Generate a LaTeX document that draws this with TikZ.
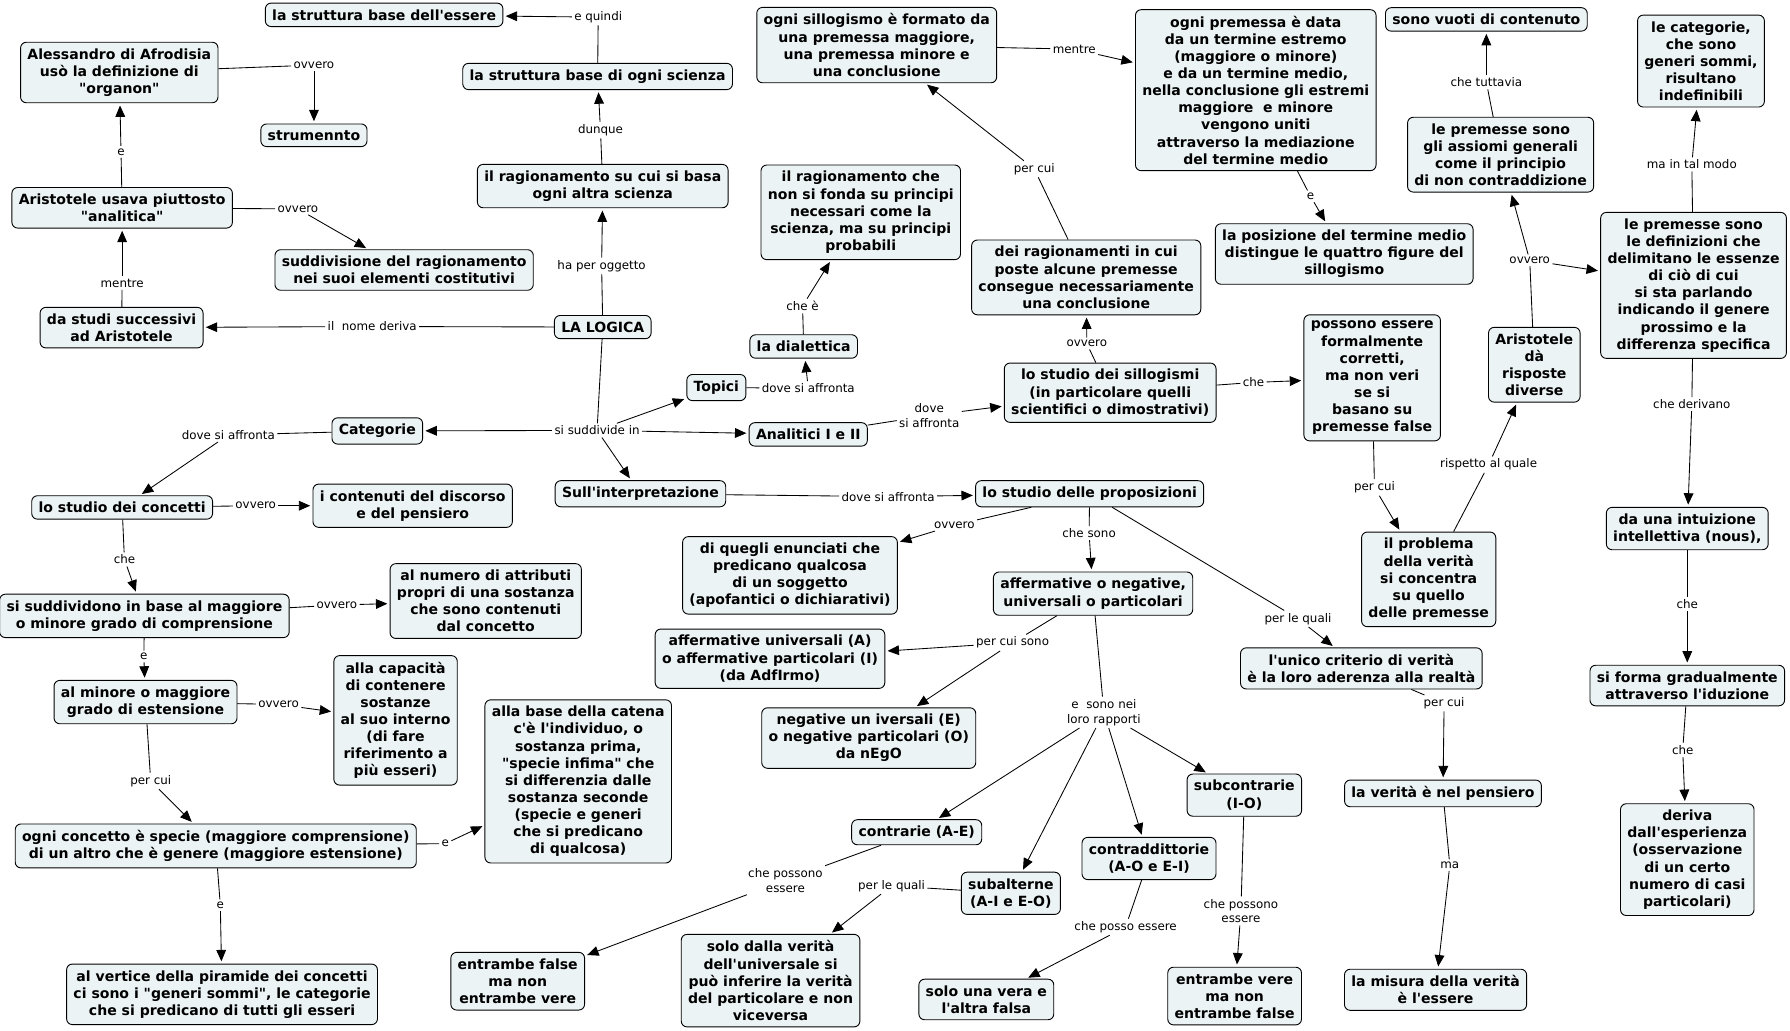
\documentclass[tikz,border=0pt]{standalone}
\usepackage{fontspec}
\newfontfamily\mapfont{DejaVu Sans}
\usepackage{tikz}
\usetikzlibrary{arrows.meta}
\definecolor{cmapfill}{RGB}{236,243,245}
\newcommand\conceptfont{\mapfont\bfseries\fontsize{12.3}{15}\selectfont}
\newcommand\linkfont{\mapfont\fontsize{10.4}{13}\selectfont}

\begin{document}
\begin{tikzpicture}[x=1pt,y=-1pt,
  concept/.style={draw,line width=0.8pt,rounded corners=5pt,fill=cmapfill,align=center,font=\conceptfont,inner xsep=6pt,inner ysep=5.5pt},
  linkl/.style={font=\linkfont,align=center,inner sep=2pt},
  link/.style={line width=0.75pt},
  arr/.style={link,-{Triangle[length=10pt,width=8.5pt]},shorten >=2pt}]
\useasboundingbox (0,0) rectangle (1568,903);
\node[concept] (essere) at (336.5,13) {la struttura base dell'essere};
\node[concept] (scienza) at (523.5,67) {la struttura base di ogni scienza};
\node[concept] (alessandro) at (104.5,63.5) {Alessandro di Afrodisia\\usò la definizione di\\"organon"};
\node[concept] (strumento) at (275,118.5) {strumennto};
\node[concept] (ragionamento) at (528,163) {il ragionamento su cui si basa\\ogni altra scienza};
\node[concept] (aristotele) at (107,182) {Aristotele usava piuttosto\\"analitica"};
\node[concept] (suddivisione) at (354,236.5) {suddivisione del ragionamento\\nei suoi elementi costitutivi};
\node[concept] (studi) at (106.5,287) {da studi successivi\\ad Aristotele};
\node[concept] (logica) at (528,286.5) {LA LOGICA};
\node[concept] (sillogismo) at (768,39.5) {ogni sillogismo è formato da\\una premessa maggiore,\\una premessa minore e\\una conclusione};
\node[concept] (premessa) at (1100,79) {ogni premessa è data\\da un termine estremo\\(maggiore o minore)\\e da un termine medio,\\nella conclusione gli estremi\\maggiore\ \ e minore\\vengono uniti\\attraverso la mediazione\\del termine medio};
\node[concept] (vuoti) at (1302,17) {sono vuoti di contenuto};
\node[concept] (indefinibili) at (1490,53.5) {le categorie,\\che sono\\generi sommi,\\risultano\\indefinibili};
\node[concept] (dialdef) at (754,186) {il ragionamento che\\non si fonda su principi\\necessari come la\\scienza, ma su principi\\probabili};
\node[concept] (ragionamenti) at (951.5,243) {dei ragionamenti in cui\\poste alcune premesse\\consegue necessariamente\\una conclusione};
\node[concept] (posizione) at (1177.5,222.5) {la posizione del termine medio\\distingue le quattro figure del\\sillogismo};
\node[concept] (assiomi) at (1314.5,135.5) {le premesse sono\\gli assiomi generali\\come il principio\\di non contraddizione};
\node[concept] (definizioni) at (1483.5,250) {le premesse sono\\le definizioni che\\delimitano le essenze\\di ciò di cui\\si sta parlando\\indicando il genere\\prossimo e la\\differenza specifica};
\node[concept] (risposte) at (1344,319.5) {Aristotele\\dà\\risposte\\diverse};
\node[concept] (possono) at (1202,331) {possono essere\\formalmente\\corretti,\\ma non veri\\se si\\basano su\\premesse false};
\node[concept] (dialettica) at (704,303.5) {la dialettica};
\node[concept] (topici) at (627.5,339.5) {Topici};
\node[concept] (sillogismi) at (972.5,344) {lo studio dei sillogismi\\(in particolare quelli\\scientifici o dimostrativi)};
\node[concept] (categorie) at (330.5,377.5) {Categorie};
\node[concept] (analitici) at (708,380.5) {Analitici I e II};
\node[concept] (interpretazione) at (561,432.5) {Sull'interpretazione};
\node[concept] (proposizioni) at (954.5,432.5) {lo studio delle proposizioni};
\node[concept] (concetti) at (107,444.5) {lo studio dei concetti};
\node[concept] (contenuti) at (361.5,443) {i contenuti del discorso\\e del pensiero};
\node[concept] (enunciati) at (692,504) {di quegli enunciati che\\predicano qualcosa\\di un soggetto\\(apofantici o dichiarativi)};
\node[concept] (affneg) at (957.5,520) {affermative o negative,\\universali o particolari};
\node[concept] (suddividono) at (126.5,539.5) {si suddividono in base al maggiore\\o minore grado di comprensione};
\node[concept] (attributi) at (425.5,526.5) {al numero di attributi\\propri di una sostanza\\che sono contenuti\\dal concetto};
\node[concept] (affermative) at (674.5,577) {affermative universali (A)\\o affermative particolari (I)\\(da AdfIrmo)};
\node[concept] (estensione) at (127.5,615) {al minore o maggiore\\grado di estensione};
\node[concept] (capacita) at (346.5,631) {alla capacità\\di contenere\\sostanze\\al suo interno\\(di fare\\riferimento a\\più esseri)};
\node[concept] (individuo) at (506.5,684.5) {alla base della catena\\c'è l'individuo, o\\sostanza prima,\\"specie infima" che\\si differenzia dalle\\sostanza seconde\\(specie e generi\\che si predicano\\di qualcosa)};
\node[concept] (negative) at (761,646.5) {negative un iversali (E)\\o negative particolari (O)\\da nEgO};
\node[concept] (criterio) at (1192.5,585.5) {l'unico criterio di verità\\è la loro aderenza alla realtà};
\node[concept] (problema) at (1251.5,507.5) {il problema\\della verità\\si concentra\\su quello\\delle premesse};
\node[concept] (intuizione) at (1478,463) {da una intuizione\\intellettiva (nous),};
\node[concept] (gradualmente) at (1478,600.5) {si forma gradualmente\\attraverso l'iduzione};
\node[concept] (esperienza) at (1478,753) {deriva\\dall'esperienza\\(osservazione\\di un certo\\numero di casi\\particolari)};
\node[concept] (pensiero) at (1264,695) {la verità è nel pensiero};
\node[concept] (misura) at (1257.5,867) {la misura della verità\\è l'essere};
\node[concept] (specie) at (189,741) {ogni concetto è specie (maggiore comprensione)\\di un altro che è genere (maggiore estensione)};
\node[concept] (vertice) at (194.5,871) {al vertice della piramide dei concetti\\ci sono i "generi sommi", le categorie\\che si predicano di tutti gli esseri};
\node[concept] (contrarie) at (803,729) {contrarie (A-E)};
\node[concept] (subcontrarie) at (1090,696.5) {subcontrarie\\(I-O)};
\node[concept] (contraddittorie) at (1006.5,752) {contraddittorie\\(A-O e E-I)};
\node[concept] (subalterne) at (885.5,782.5) {subalterne\\(A-I e E-O)};
\node[concept] (ambefalse) at (453.5,859.5) {entrambe false\\ma non\\entrambe vere};
\node[concept] (solodalla) at (675,859) {solo dalla verità\\dell'universale si\\può inferire la verità\\del particolare e non\\viceversa};
\node[concept] (solouna) at (864,875.5) {solo una vera e\\l'altra falsa};
\node[concept] (ambevere) at (1081.5,872.5) {entrambe vere\\ma non\\entrambe false};
\node[linkl] (lequindi) at (524,15) {e quindi};
\node[linkl] (ldunque) at (526,114) {dunque};
\node[linkl] (loggetto) at (527,233) {ha per oggetto};
\node[linkl] (lnome) at (326,286) {il\ \ nome deriva};
\node[linkl] (lmentre) at (107,248) {mentre};
\node[linkl] (le) at (106,133) {e};
\node[linkl] (lovvero) at (275,57) {ovvero};
\node[linkl] (lovveroar) at (261,183) {ovvero};
\node[linkl] (lsuddivide) at (523,377) {si suddivide in};
\node[linkl] (laffrcat) at (200,381) {dove si affronta};
\node[linkl] (lovverocon) at (224,443) {ovvero};
\node[linkl] (lche) at (109,490) {che};
\node[linkl] (lovverosud) at (295,530) {ovvero};
\node[linkl] (lesud) at (126,575) {e};
\node[linkl] (lovveroest) at (244,617) {ovvero};
\node[linkl] (lpercuiest) at (132,684) {per cui};
\node[linkl] (lespecie) at (390,739) {e};
\node[linkl] (levertice) at (193,793) {e};
\node[linkl] (laffrtop) at (708,340) {dove si affronta};
\node[linkl] (lchee) at (703,268) {che è};
\node[linkl] (laffran) at (814,364) {dove\\si affronta};
\node[linkl] (lovverosil) at (952,301) {ovvero};
\node[linkl] (lpercuirag) at (906,148) {per cui};
\node[linkl] (lmentresil) at (941,43) {mentre};
\node[linkl] (lepre) at (1148,172) {e};
\node[linkl] (lchesil) at (1098,335) {che};
\node[linkl] (lpercuipos) at (1204,427) {per cui};
\node[linkl] (lrispetto) at (1304,407) {rispetto al quale};
\node[linkl] (lovverorisp) at (1340,228) {ovvero};
\node[linkl] (ltuttavia) at (1302,72) {che tuttavia};
\node[linkl] (ltalmodo) at (1482,144) {ma in tal modo};
\node[linkl] (lderivano) at (1482,354) {che derivano};
\node[linkl] (lcheint) at (1478,529) {che};
\node[linkl] (lchefor) at (1474,657) {che};
\node[linkl] (laffrint) at (778,435) {dove si affronta};
\node[linkl] (lovveroprop) at (836,460) {ovvero};
\node[linkl] (lchesono) at (954,467) {che sono};
\node[linkl] (lperlequali) at (1137,542) {per le quali};
\node[linkl] (lpercuicri) at (1265,616) {per cui};
\node[linkl] (lma) at (1270,758) {ma};
\node[linkl] (lpercuisono) at (887,563) {per cui sono};
\node[linkl] (lrapporti) at (967,624) {e\ \ sono nei\\loro rapporti};
\node[linkl] (lpossonocon) at (688,771) {che possono\\essere};
\node[linkl] (lperlequalisub) at (781,776) {per le quali};
\node[linkl] (lposso) at (986,812) {che posso essere};
\node[linkl] (lpossonosub) at (1087,798) {che possono\\essere};
\draw[link] (scienza) -- (lequindi); \draw[arr] (lequindi) -- (essere);
\draw[link] (ragionamento) -- (ldunque); \draw[arr] (ldunque) -- (scienza);
\draw[link] (logica) -- (loggetto); \draw[arr] (loggetto) -- (ragionamento);
\draw[link] (logica) -- (lnome); \draw[arr] (lnome) -- (studi);
\draw[link] (studi) -- (lmentre); \draw[arr] (lmentre) -- (aristotele);
\draw[link] (aristotele) -- (le); \draw[arr] (le) -- (alessandro);
\draw[link] (alessandro) -- (lovvero); \draw[arr] (lovvero) -- (strumento);
\draw[link] (aristotele) -- (lovveroar); \draw[arr] (lovveroar) -- (suddivisione);
\draw[link] (logica) -- (lsuddivide);
\draw[arr] (lsuddivide) -- (categorie);
\draw[arr] (lsuddivide) -- (topici);
\draw[arr] (lsuddivide) -- (analitici);
\draw[arr] (lsuddivide) -- (interpretazione);
\draw[link] (categorie) -- (laffrcat); \draw[arr] (laffrcat) -- (concetti);
\draw[link] (concetti) -- (lovverocon); \draw[arr] (lovverocon) -- (contenuti);
\draw[link] (concetti) -- (lche); \draw[arr] (lche) -- (suddividono);
\draw[link] (suddividono) -- (lovverosud); \draw[arr] (lovverosud) -- (attributi);
\draw[link] (suddividono) -- (lesud); \draw[arr] (lesud) -- (estensione);
\draw[link] (estensione) -- (lovveroest); \draw[arr] (lovveroest) -- (capacita);
\draw[link] (estensione) -- (lpercuiest); \draw[arr] (lpercuiest) -- (specie);
\draw[link] (specie) -- (lespecie); \draw[arr] (lespecie) -- (individuo);
\draw[link] (specie) -- (levertice); \draw[arr] (levertice) -- (vertice);
\draw[link] (topici) -- (laffrtop); \draw[arr] (laffrtop) -- (dialettica);
\draw[link] (dialettica) -- (lchee); \draw[arr] (lchee) -- (dialdef);
\draw[link] (analitici) -- (laffran); \draw[arr] (laffran) -- (sillogismi);
\draw[link] (sillogismi) -- (lovverosil); \draw[arr] (lovverosil) -- (ragionamenti);
\draw[link] (ragionamenti) -- (lpercuirag); \draw[arr] (lpercuirag) -- (sillogismo);
\draw[link] (sillogismo) -- (lmentresil); \draw[arr] (lmentresil) -- (premessa);
\draw[link] (premessa) -- (lepre); \draw[arr] (lepre) -- (posizione);
\draw[link] (sillogismi) -- (lchesil); \draw[arr] (lchesil) -- (possono);
\draw[link] (possono) -- (lpercuipos); \draw[arr] (lpercuipos) -- (problema);
\draw[link] (problema) -- (lrispetto); \draw[arr] (lrispetto) -- (risposte);
\draw[link] (risposte) -- (lovverorisp);
\draw[arr] (lovverorisp) -- (assiomi);
\draw[arr] (lovverorisp) -- (definizioni);
\draw[link] (assiomi) -- (ltuttavia); \draw[arr] (ltuttavia) -- (vuoti);
\draw[link] (definizioni) -- (ltalmodo); \draw[arr] (ltalmodo) -- (indefinibili);
\draw[link] (definizioni) -- (lderivano); \draw[arr] (lderivano) -- (intuizione);
\draw[link] (intuizione) -- (lcheint); \draw[arr] (lcheint) -- (gradualmente);
\draw[link] (gradualmente) -- (lchefor); \draw[arr] (lchefor) -- (esperienza);
\draw[link] (interpretazione) -- (laffrint); \draw[arr] (laffrint) -- (proposizioni);
\draw[link] (proposizioni) -- (lovveroprop); \draw[arr] (lovveroprop) -- (enunciati);
\draw[link] (proposizioni) -- (lchesono); \draw[arr] (lchesono) -- (affneg);
\draw[link] (proposizioni) -- (lperlequali); \draw[arr] (lperlequali) -- (criterio);
\draw[link] (criterio) -- (lpercuicri); \draw[arr] (lpercuicri) -- (pensiero);
\draw[link] (pensiero) -- (lma); \draw[arr] (lma) -- (misura);
\draw[link] (affneg) -- (lpercuisono);
\draw[arr] (lpercuisono) -- (affermative);
\draw[arr] (lpercuisono) -- (negative);
\draw[link] (affneg) -- (lrapporti);
\draw[arr] (lrapporti) -- (contrarie);
\draw[arr] (lrapporti) -- (subalterne);
\draw[arr] (lrapporti) -- (contraddittorie);
\draw[arr] (lrapporti) -- (subcontrarie);
\draw[link] (contrarie) -- (lpossonocon); \draw[arr] (lpossonocon) -- (ambefalse);
\draw[link] (subalterne) -- (lperlequalisub); \draw[arr] (lperlequalisub) -- (solodalla);
\draw[link] (contraddittorie) -- (lposso); \draw[arr] (lposso) -- (solouna);
\draw[link] (subcontrarie) -- (lpossonosub); \draw[arr] (lpossonosub) -- (ambevere);
\end{tikzpicture}
\end{document}
